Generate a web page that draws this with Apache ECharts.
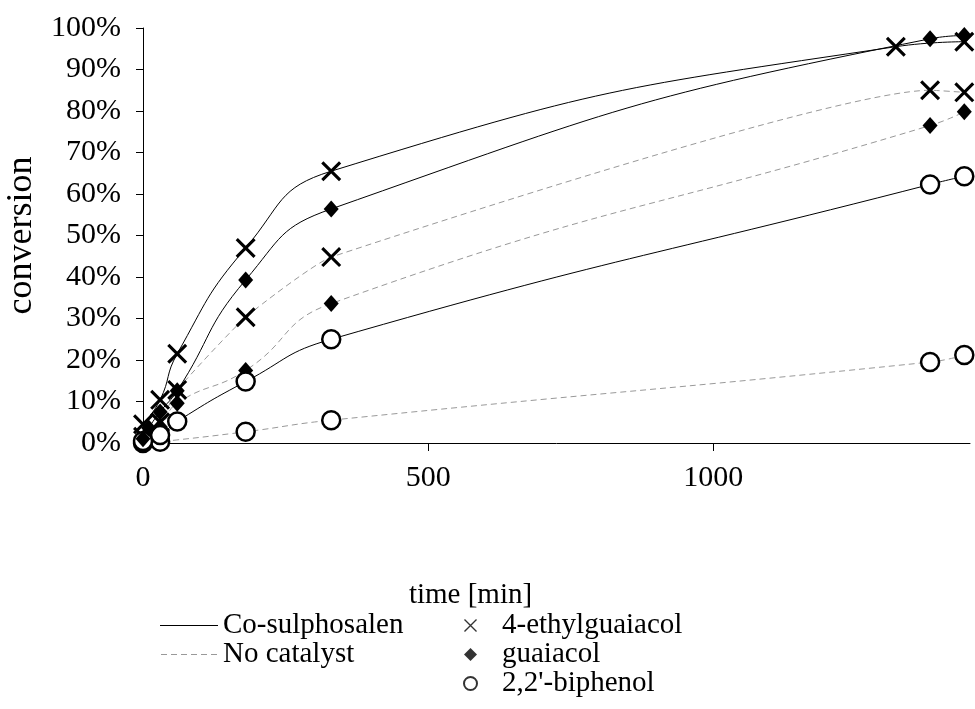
<!DOCTYPE html>
<html>
<head>
<meta charset="utf-8">
<title>conversion vs time</title>
<script src="https://cdn.jsdelivr.net/npm/echarts@6/dist/echarts.min.js"></script>
<style>
  html, body { margin: 0; padding: 0; background: #fff; }
  #chart { width: 975px; height: 709px; }
</style>
</head>
<body>
<div id="chart"></div>
<script>
// sampling times [min] and conversions [%]
const tCo4eg = [0, 30, 60, 180, 330, 1320, 1440];
const co4eg = [4.5, 10.4, 21.5, 47, 65.5, 95.5, 96.7];

const tCoGua = [0, 10, 30, 60, 180, 330, 1380, 1440];
const coGua = [1, 3.6, 7.5, 12.6, 39.3, 56.4, 97.4, 98.2];

const tCoBip = [0, 30, 60, 180, 330, 1380, 1440];
const coBip = [0.5, 1.9, 5.2, 14.8, 25, 62.3, 64.3];

const tNc4eg = [0, 30, 60, 180, 330, 1380, 1440];
const nc4eg = [1.5, 5, 12.8, 30.3, 44.8, 85, 84.5];

const tNcGua = [0, 30, 60, 180, 330, 1380, 1440];
const ncGua = [1, 3.9, 9.6, 17.5, 33.6, 76.5, 79.8];

const tNcBip = [0, 30, 180, 330, 1380, 1440];
const ncBip = [0, 0.3, 2.7, 5.5, 19.5, 21.2];

const xTicks = [0, 500, 1000];

const FONT = '"Liberation Serif", "Times New Roman", serif';
const CROSS = 'path://M0,2.2L2.2,0L20,17.8L17.8,20Z M17.8,0L20,2.2L2.2,20L0,17.8Z';
const CROSS_THIN = 'path://M0,1.5L1.5,0L20,18.5L18.5,20Z M18.5,0L20,1.5L1.5,20L0,18.5Z';
const DASHES = 'path://M0,0h6v1h-6z M10,0h6v1h-6z M20,0h6v1h-6z M30,0h6v1h-6z M40,0h6v1h-6z M50,0h6v1h-6z';

const solidLine = { color: '#000', width: 1 };
const dashLine = { color: '#999', width: 1, type: [6, 4] };

const marks = {
  cross: { symbol: CROSS, symbolSize: 20, itemStyle: { color: '#000' } },
  diamond: { symbol: 'diamond', symbolSize: [15, 17], itemStyle: { color: '#000' } },
  circle: { symbol: 'circle', symbolSize: 18, itemStyle: { color: '#fff', borderColor: '#000', borderWidth: 2.5 } }
};

function pairs(xs, ys) {
  return xs.map((x, i) => [x, ys[i]]);
}

function dataSeries(times, values, mark, line, smooth) {
  return Object.assign({
    type: 'line',
    smooth: smooth,
    data: pairs(times, values),
    lineStyle: line,
    showAllSymbol: true,
    animation: false,
    silent: true
  }, marks[mark]);
}

const series = [
  dataSeries(tNcBip, ncBip, 'circle', dashLine, 0.5),
  dataSeries(tNcGua, ncGua, 'diamond', dashLine, 0.5),
  dataSeries(tNc4eg, nc4eg, 'cross', dashLine, 0.15),
  dataSeries(tCoBip, coBip, 'circle', solidLine, 0.5),
  dataSeries(tCoGua, coGua, 'diamond', solidLine, 0.5),
  dataSeries(tCo4eg, co4eg, 'cross', solidLine, 0.5),
  // legend only
  { name: 'Co-sulphosalen', type: 'line', data: [], itemStyle: { color: '#000' } },
  { name: 'No catalyst', type: 'line', data: [], itemStyle: { color: '#999' } },
  { name: '4-ethylguaiacol', type: 'scatter', data: [], itemStyle: { color: '#000' } },
  { name: 'guaiacol', type: 'scatter', data: [], itemStyle: { color: '#000' } },
  { name: "2,2'-biphenol", type: 'scatter', data: [], itemStyle: { color: '#fff', borderColor: '#000', borderWidth: 2 } }
];

const legendText = { fontFamily: FONT, fontSize: 29, color: '#000', lineHeight: 29 };

const chart = echarts.init(document.getElementById('chart'), null, { renderer: 'canvas' });
chart.setOption({
  backgroundColor: '#fff',
  animation: false,
  grid: { left: 143, right: 5, top: 28, bottom: 266, containLabel: false, outerBoundsMode: 'none' },
  xAxis: {
    type: 'value',
    min: 0,
    max: 1450,
    interval: 500,
    name: 'time [min]',
    nameLocation: 'middle',
    nameGap: 138,
    nameTextStyle: { fontFamily: FONT, fontSize: 29, color: '#000', padding: [0, 172, 0, 0] },
    axisLine: { lineStyle: { color: '#000', width: 1 } },
    axisTick: { customValues: xTicks, length: 8, lineStyle: { color: '#000' } },
    axisLabel: { customValues: xTicks, formatter: v => String(v), margin: 20, fontFamily: FONT, fontSize: 30, color: '#000' },
    splitLine: { show: false }
  },
  yAxis: {
    type: 'value',
    min: 0,
    max: 100,
    interval: 10,
    name: 'conversion',
    nameLocation: 'middle',
    nameGap: 103,
    nameTextStyle: { fontFamily: FONT, fontSize: 36, color: '#000' },
    axisLine: { show: true, lineStyle: { color: '#000', width: 1 } },
    axisTick: { show: true, length: 7, lineStyle: { color: '#000' } },
    axisLabel: { formatter: '{value}%', margin: 22, fontFamily: FONT, fontSize: 30, color: '#000' },
    splitLine: { show: false }
  },
  legend: [
    {
      data: [
        { name: 'Co-sulphosalen', icon: 'rect' },
        { name: 'No catalyst', icon: DASHES }
      ],
      orient: 'vertical',
      left: 155,
      top: 606,
      itemWidth: 58,
      itemHeight: 1,
      itemGap: 0,
      selectedMode: false,
      textStyle: legendText
    },
    {
      data: [
        { name: '4-ethylguaiacol', icon: CROSS_THIN },
        { name: 'guaiacol', icon: 'diamond' },
        { name: "2,2'-biphenol", icon: 'circle' }
      ],
      orient: 'vertical',
      left: 458,
      top: 606,
      itemWidth: 13,
      itemHeight: 13,
      itemGap: 0,
      selectedMode: false,
      textStyle: Object.assign({ padding: [0, 0, 0, 20] }, legendText)
    }
  ],
  series: series
});
</script>
</body>
</html>
